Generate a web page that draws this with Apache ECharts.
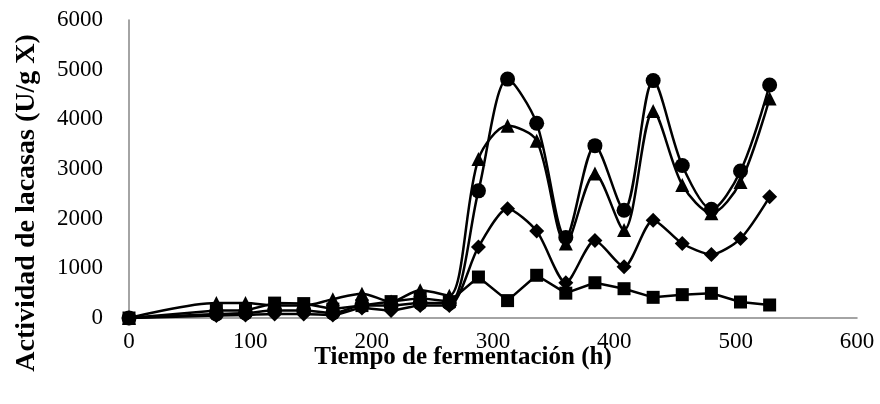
<!DOCTYPE html>
<html><head><meta charset="utf-8">
<script src="https://cdn.jsdelivr.net/npm/echarts@6/dist/echarts.min.js"></script>
<style>html,body{margin:0;padding:0;background:#fff}#c{width:880px;height:404px}</style>
</head><body><div id="c"></div>
<script>
const hours = [0, 72, 96, 120, 144, 168, 192, 216, 240, 264, 288, 312, 336, 360, 384, 408, 432, 456, 480, 504, 528];
const circles   = [0, 80, 100, 150, 150, 100, 250, 250, 300, 300, 2560, 4810, 3920, 1620, 3470, 2170, 4780, 3070, 2190, 2960, 4690];
const triangles = [0, 300, 300, 250, 250, 380, 490, 330, 560, 450, 3200, 3870, 3570, 1500, 2910, 1770, 4170, 2680, 2110, 2740, 4420];
const diamonds  = [0, 50, 60, 80, 80, 60, 200, 150, 250, 250, 1430, 2200, 1750, 710, 1560, 1030, 1970, 1500, 1280, 1600, 2440];
const squares   = [0, 150, 150, 300, 290, 180, 250, 330, 400, 330, 825, 350, 860, 500, 710, 590, 416, 470, 497, 322, 262];
const xTicks = [0, 100, 200, 300, 400, 500, 600];
const yTicks = [0, 1000, 2000, 3000, 4000, 5000, 6000];

const pair = arr => hours.map((h, i) => [h, arr[i]]);
const font = '"Liberation Serif", "Times New Roman", serif';
function mk(name, arr, symbol, size, smooth) {
  return {
    name, type: 'line', data: pair(arr), symbol, symbolSize: size, smooth,
    lineStyle: { color: '#000', width: 2.5 },
    itemStyle: { color: '#000' }, animation: false
  };
}
const chart = echarts.init(document.getElementById('c'));
chart.setOption({
  animation: false,
  grid: { left: 129, right: 23, top: 20, bottom: 86 },
  xAxis: {
    type: 'value', min: xTicks[0], max: xTicks[xTicks.length - 1], interval: 100,
    axisLine: { lineStyle: { color: '#868686', width: 1.5 } },
    axisTick: { show: false }, splitLine: { show: false },
    axisLabel: { color: '#000', fontFamily: font, fontSize: 23, margin: 12, formatter: v => String(v) }
  },
  yAxis: {
    type: 'value', min: yTicks[0], max: yTicks[yTicks.length - 1], interval: 1000,
    axisLine: { show: true, lineStyle: { color: '#868686', width: 1.5 } },
    axisTick: { show: false }, splitLine: { show: false },
    axisLabel: { color: '#000', fontFamily: font, fontSize: 23, margin: 26, formatter: v => String(v) }
  },
  graphic: [
    { type: 'text', x: 463, y: 358, style: { text: 'Tiempo de fermentación (h)', fontFamily: font, fontSize: 25, fontWeight: 'bold', fill: '#000', align: 'center', verticalAlign: 'middle' } },
    { type: 'text', rotation: Math.PI / 2, x: 27, y: 203, style: { text: 'Actividad de lacasas (U/g X)', fontFamily: font, fontSize: 28, fontWeight: 'bold', fill: '#000', align: 'center', verticalAlign: 'middle' } }
  ],
  series: [
    mk('Cuadrados', squares, 'rect', 13, 0),
    mk('Rombos', diamonds, 'diamond', 15, 0.25),
    mk('Triángulos', triangles, 'triangle', 14, 0.3),
    mk('Círculos', circles, 'circle', 15, 0.3)
  ]
});
</script></body></html>
